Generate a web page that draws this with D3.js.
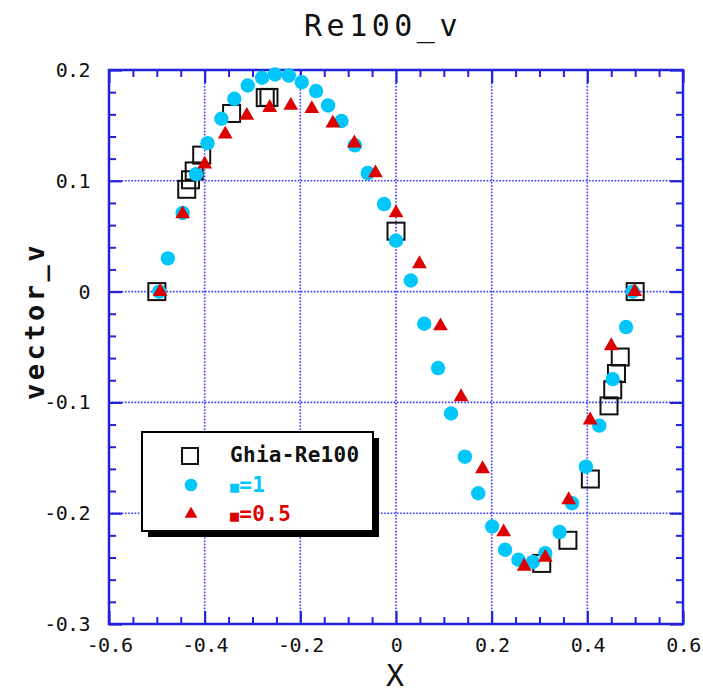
<!DOCTYPE html>
<html>
<head>
<meta charset="utf-8">
<script src="https://cdn.jsdelivr.net/npm/d3@7"></script>
<style>
  body { margin: 0; background: #fff; }
  svg { display: block; }
</style>
</head>
<body>
<div id="chart"></div>
<script>
// Ghia et al. (1982), Re=100, v along horizontal centre line (x shifted by -0.5)
const ghiaX = [-0.5, -0.4375, -0.4297, -0.4219, -0.4062, -0.3437, -0.2734, -0.2656, 0.0,
               0.3047, 0.3594, 0.4063, 0.4453, 0.4531, 0.4609, 0.4688, 0.5];
const ghiaV = [0.0, 0.09233, 0.10091, 0.10890, 0.12317, 0.16077, 0.17507, 0.17527, 0.05454,
               -0.24533, -0.22445, -0.16914, -0.10313, -0.08864, -0.07391, -0.05906, 0.0];

// beta = 1 (cyan circles)
const beta1X = [-0.495, -0.477, -0.446, -0.418, -0.394, -0.365, -0.338, -0.310, -0.280, -0.253,
                -0.224, -0.197, -0.167, -0.142, -0.114, -0.086, -0.059, -0.025, 0.000, 0.031,
                0.059, 0.088, 0.115, 0.144, 0.172, 0.201, 0.228, 0.256, 0.286, 0.312,
                0.342, 0.368, 0.397, 0.425, 0.453, 0.481, 0.495];
const beta1V = [0.000, 0.030, 0.071, 0.106, 0.134, 0.156, 0.174, 0.186, 0.193, 0.196,
                0.195, 0.189, 0.181, 0.168, 0.154, 0.132, 0.107, 0.079, 0.046, 0.010,
                -0.029, -0.069, -0.110, -0.149, -0.182, -0.212, -0.233, -0.242, -0.244, -0.236,
                -0.217, -0.191, -0.158, -0.121, -0.079, -0.032, 0.000];

// beta = 0.5 (red triangles)
const beta05X = [-0.493, -0.446, -0.400, -0.357, -0.312, -0.264, -0.220, -0.176, -0.132, -0.087,
                 -0.043, 0.000, 0.049, 0.093, 0.136, 0.181, 0.225, 0.268, 0.312, 0.361,
                 0.406, 0.450, 0.499];
const beta05V = [0.000, 0.070, 0.115, 0.142, 0.159, 0.166, 0.168, 0.165, 0.152, 0.134,
                 0.107, 0.071, 0.025, -0.031, -0.095, -0.160, -0.217, -0.248, -0.240, -0.188,
                 -0.116, -0.049, 0.000];

const xTicks = [-0.6, -0.4, -0.2, 0, 0.2, 0.4, 0.6];
const yTicks = [-0.3, -0.2, -0.1, 0, 0.1, 0.2];
const legendLabels = ["Ghia-Re100", "=1", "=0.5"];

const W = 703, H = 693;
const margin = {left: 109, right: 683, top: 70, bottom: 624};
const blue = "#2222dd", cyan = "#00c6fa", red = "#dd0000";
const mono = "'DejaVu Sans Mono', 'Liberation Mono', monospace";

const svg = d3.select("#chart").append("svg")
    .attr("width", W).attr("height", H);

const x = d3.scaleLinear().domain([-0.6, 0.6]).range([margin.left, margin.right]);
const y = d3.scaleLinear().domain([-0.3, 0.2]).range([margin.bottom, margin.top]);
const fmt = d => String(+d.toFixed(1));

// minor tick positions
const xMinor = d3.range(-0.6, 0.6001, 0.05).map(v => +v.toFixed(2)).filter(v => !xTicks.some(t => Math.abs(t - v) < 1e-6));
const yMinor = d3.range(-0.3, 0.2001, 0.02).map(v => +v.toFixed(2)).filter(v => !yTicks.some(t => Math.abs(t - v) < 1e-6));

// dotted grid
const grid = svg.append("g").attr("stroke", "#3838ff").attr("stroke-width", 1.6).attr("stroke-dasharray", "1.6,1.6");
grid.selectAll("line.gx").data(xTicks.slice(1, -1)).enter().append("line")
    .attr("x1", d => x(d)).attr("x2", d => x(d)).attr("y1", margin.top).attr("y2", margin.bottom);
grid.selectAll("line.gy").data(yTicks.slice(1, -1)).enter().append("line")
    .attr("y1", d => y(d)).attr("y2", d => y(d)).attr("x1", margin.left).attr("x2", margin.right);

// axes: major and minor ticks on all four sides, pointing inward
function addAxis(axisFn, scale, major, minor, tx, ty, labels) {
    const g = svg.append("g").attr("transform", `translate(${tx},${ty})`)
        .call(axisFn(scale).tickValues(major).tickSize(-13)
            .tickPadding(labels ? (axisFn === d3.axisLeft ? 19 : 14) : 0)
            .tickFormat(labels ? fmt : ""));
    g.select(".domain").remove();
    g.selectAll(".tick line").attr("stroke", blue).attr("stroke-width", 2.2);
    g.selectAll("text").attr("fill", "#111").style("font-family", mono).style("font-size", "20px")
        .style("letter-spacing", "-0.6px");
    const m = svg.append("g").attr("transform", `translate(${tx},${ty})`)
        .call(axisFn(scale).tickValues(minor).tickSize(-7).tickFormat(""));
    m.select(".domain").remove();
    m.selectAll(".tick line").attr("stroke", blue).attr("stroke-width", 2);
}
addAxis(d3.axisBottom, x, xTicks, xMinor, 0, margin.bottom, true);
addAxis(d3.axisTop, x, xTicks, xMinor, 0, margin.top, false);
addAxis(d3.axisLeft, y, yTicks, yMinor, margin.left, 0, true);
addAxis(d3.axisRight, y, yTicks, yMinor, margin.right, 0, false);

// frame
svg.append("rect").attr("x", margin.left).attr("y", margin.top)
    .attr("width", margin.right - margin.left).attr("height", margin.bottom - margin.top)
    .attr("fill", "none").attr("stroke", blue).attr("stroke-width", 2.5);

// data
const ghia = ghiaX.map((d, i) => ({x: d, v: ghiaV[i]}));
const b1 = beta1X.map((d, i) => ({x: d, v: beta1V[i]}));
const b05 = beta05X.map((d, i) => ({x: d, v: beta05V[i]}));
const sq = 17;
svg.append("g").selectAll("rect").data(ghia).enter().append("rect")
    .attr("x", d => x(d.x) - sq / 2).attr("y", d => y(d.v) - sq / 2)
    .attr("width", sq).attr("height", sq)
    .attr("fill", "none").attr("stroke", "#111").attr("stroke-width", 2);
svg.append("g").selectAll("circle").data(b1).enter().append("circle")
    .attr("cx", d => x(d.x)).attr("cy", d => y(d.v)).attr("r", 7.2)
    .attr("fill", cyan);
const tri = d3.symbol().type(d3.symbolTriangle).size(95);
svg.append("g").selectAll("path").data(b05).enter().append("path")
    .attr("transform", d => `translate(${x(d.x)},${y(d.v)})`)
    .attr("d", tri).attr("fill", red);

// legend
const lg = svg.append("g").attr("transform", "translate(142,432)");
lg.append("rect").attr("x", 6).attr("y", 6).attr("width", 231).attr("height", 99).attr("fill", "#000");
lg.append("rect").attr("x", 0).attr("y", 0).attr("width", 231).attr("height", 99)
    .attr("fill", "#fff").attr("stroke", "#000").attr("stroke-width", 2);
lg.append("rect").attr("x", 48 - 8).attr("y", 24 - 8).attr("width", 16).attr("height", 16)
    .attr("fill", "none").attr("stroke", "#111").attr("stroke-width", 2);
lg.append("circle").attr("cx", 49).attr("cy", 53).attr("r", 6.3).attr("fill", cyan);
lg.append("path").attr("transform", "translate(49,82)")
    .attr("d", d3.symbol().type(d3.symbolTriangle).size(70)).attr("fill", red);
const legendColors = ["#111", cyan, red];
const legendY = [30, 60, 89];
legendLabels.forEach((t, i) => {
    const txt = lg.append("text").attr("x", 88).attr("y", legendY[i])
        .attr("fill", legendColors[i]).style("font-family", mono)
        .style("font-weight", "bold").style("font-size", "21px").style("letter-spacing", "0.3px");
    if (i > 0) txt.append("tspan").style("font-size", "15px").text("\u25A0");
    txt.append("tspan").text(t);
});

// titles
svg.append("text").attr("x", 383).attr("y", 36).attr("text-anchor", "middle")
    .style("font-family", mono).style("font-size", "30px").style("letter-spacing", "4.5px")
    .attr("fill", "#111").text("Re100_v");
svg.append("text").attr("transform", "translate(44,321) rotate(-90)").attr("text-anchor", "middle")
    .style("font-family", mono).style("font-size", "27px").style("font-weight", "bold")
    .style("letter-spacing", "3.5px").attr("fill", "#111").text("vector_v");
svg.append("text").attr("x", 395).attr("y", 686).attr("text-anchor", "middle")
    .style("font-family", mono).style("font-size", "30px").attr("fill", "#111").text("X");
</script>
</body>
</html>
